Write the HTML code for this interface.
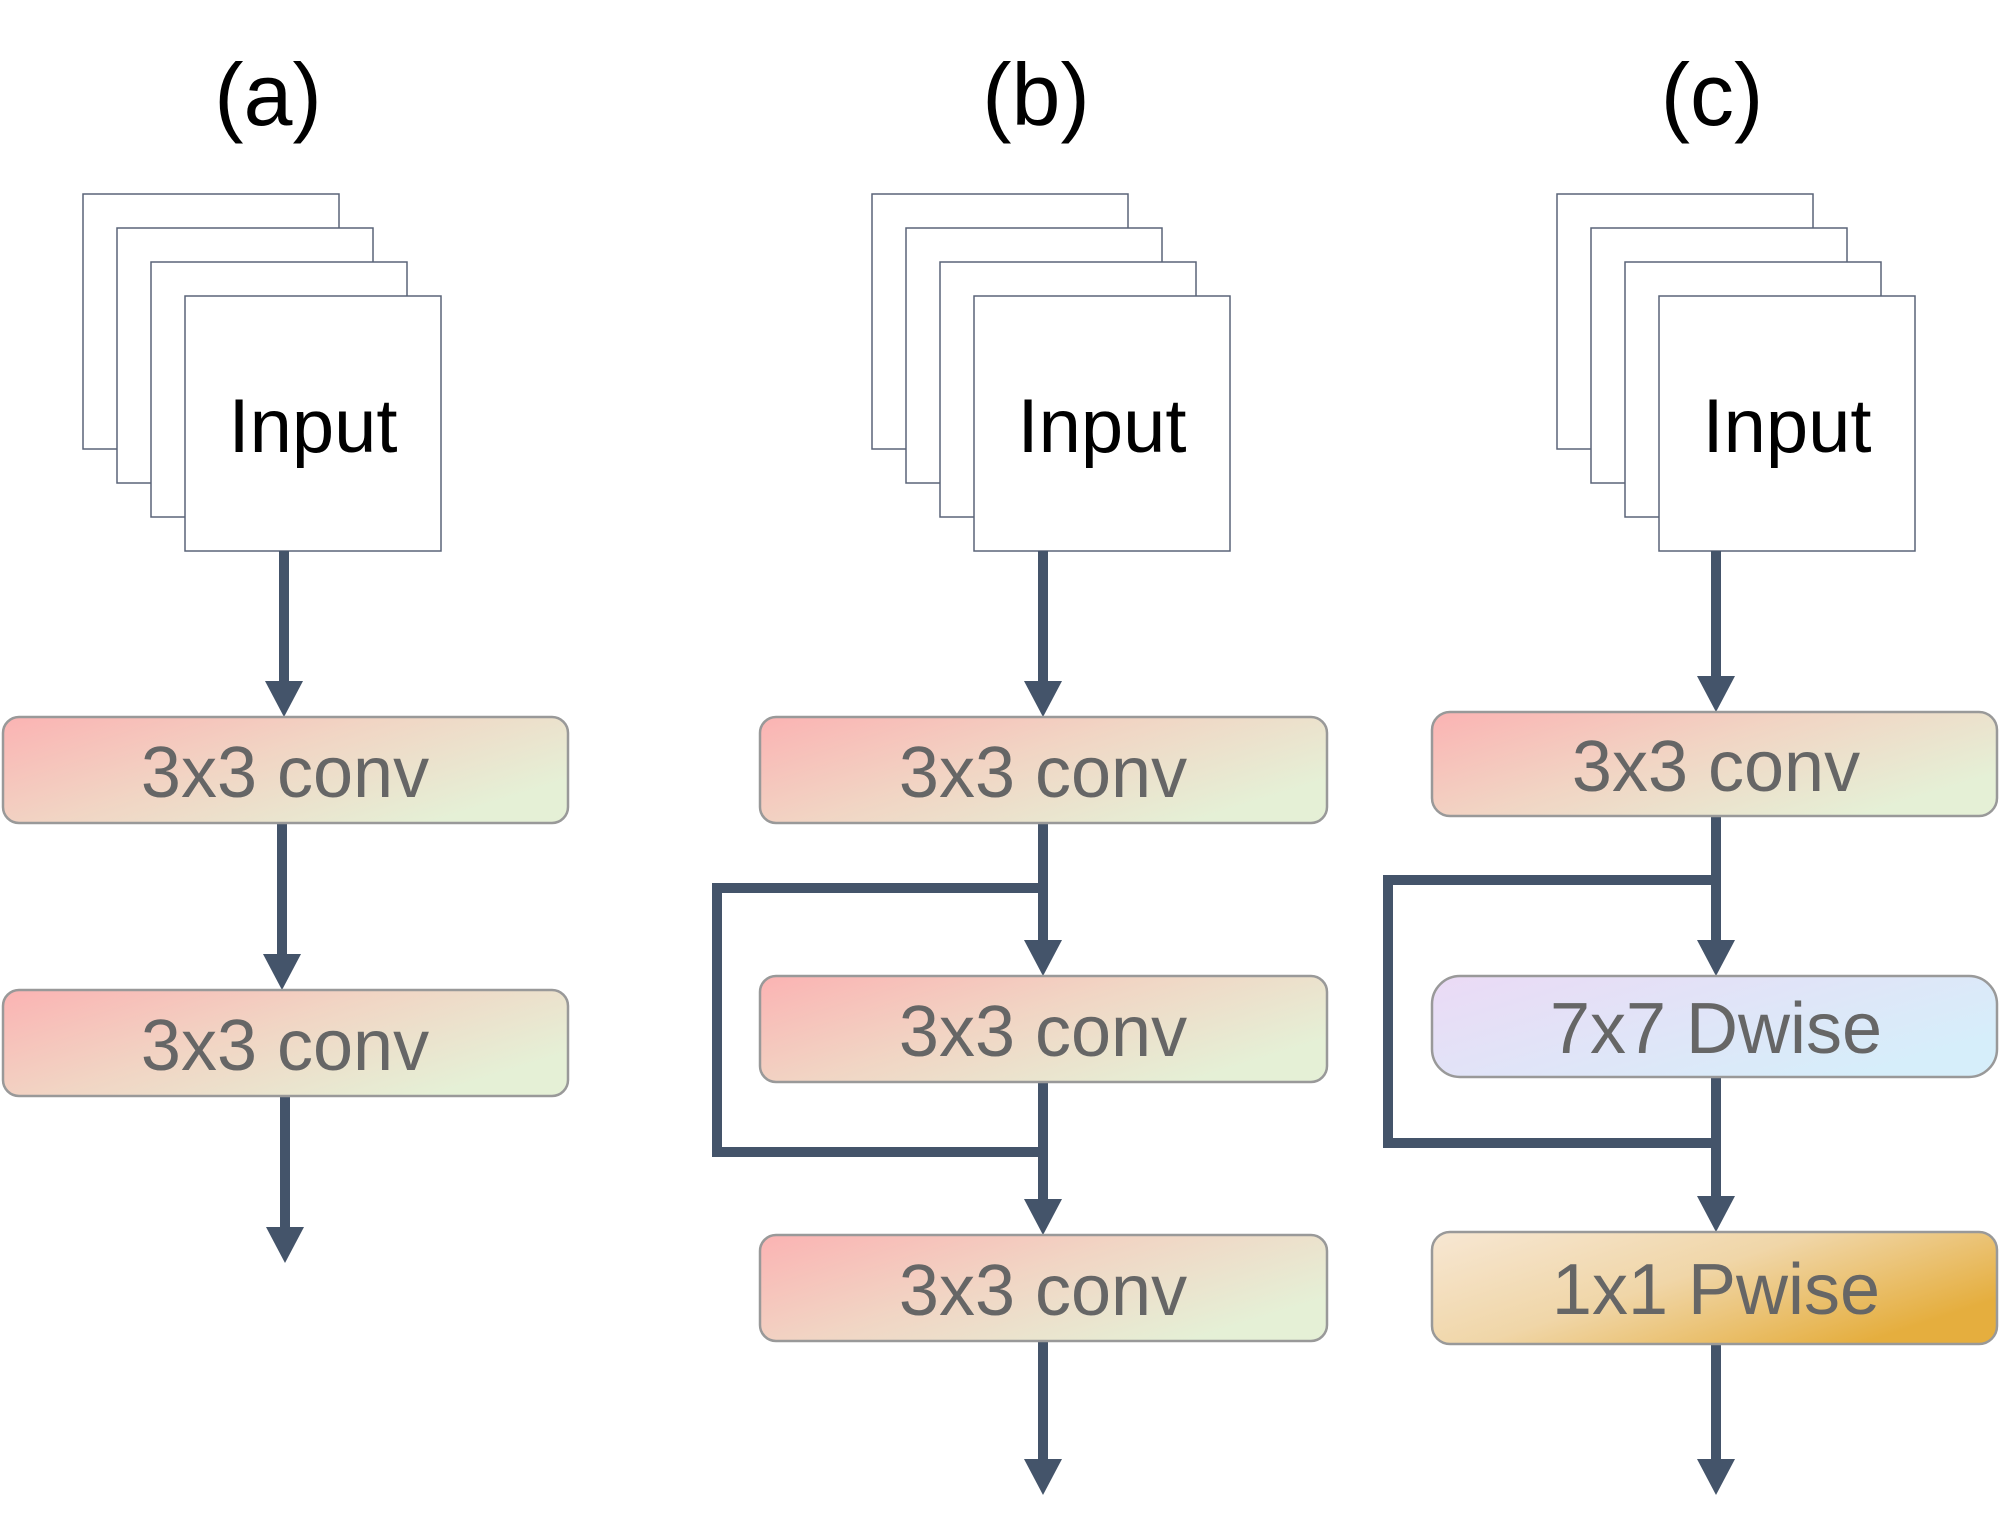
<!DOCTYPE html>
<html><head><meta charset="utf-8"><style>
html,body{margin:0;padding:0;background:#fff;}
svg{display:block;}
text{font-family:"Liberation Sans",sans-serif;}
</style></head><body>
<svg width="2000" height="1535" viewBox="0 0 2000 1535" xmlns="http://www.w3.org/2000/svg">
<defs>
<linearGradient id="gc" x1="0" y1="0" x2="1" y2="0.6"><stop offset="0" stop-color="#fbb3b3"/><stop offset="0.5" stop-color="#f1d5c4"/><stop offset="1" stop-color="#e5f0d6"/></linearGradient>
<linearGradient id="gd" x1="0" y1="0" x2="1" y2="0.6"><stop offset="0" stop-color="#ebdaf5"/><stop offset="1" stop-color="#d6eefa"/></linearGradient>
<linearGradient id="gp" x1="0" y1="0" x2="1" y2="0.6"><stop offset="0" stop-color="#f7e7d3"/><stop offset="0.5" stop-color="#f0d6a8"/><stop offset="1" stop-color="#e5ae3e"/></linearGradient>
</defs>
<g font-size="88" text-anchor="middle" fill="#000">
<text x="268" y="125">(a)</text><text x="1036" y="125">(b)</text><text x="1712" y="125">(c)</text>
</g>
<g fill="#fff" stroke="#5a6478" stroke-width="1.5">
<rect x="83" y="194" width="256" height="255"/><rect x="117" y="228" width="256" height="255"/><rect x="151" y="262" width="256" height="255"/><rect x="185" y="296" width="256" height="255"/>
<rect x="872" y="194" width="256" height="255"/><rect x="906" y="228" width="256" height="255"/><rect x="940" y="262" width="256" height="255"/><rect x="974" y="296" width="256" height="255"/>
<rect x="1557" y="194" width="256" height="255"/><rect x="1591" y="228" width="256" height="255"/><rect x="1625" y="262" width="256" height="255"/><rect x="1659" y="296" width="256" height="255"/>
</g>
<g font-size="76" text-anchor="middle" fill="#000">
<text x="313" y="452">Input</text><text x="1102" y="452">Input</text><text x="1787" y="452">Input</text>
</g>
<g stroke="#44546a" stroke-width="10" fill="none">
<line x1="284" y1="551" x2="284" y2="690"/>
<line x1="282" y1="823" x2="282" y2="960"/>
<line x1="285" y1="1096" x2="285" y2="1230"/>
<line x1="1043" y1="551" x2="1043" y2="690"/>
<line x1="1043" y1="823" x2="1043" y2="950"/>
<line x1="1043" y1="1082" x2="1043" y2="1208"/>
<line x1="1043" y1="1341" x2="1043" y2="1468"/>
<line x1="1716" y1="551" x2="1716" y2="685"/>
<line x1="1716" y1="816" x2="1716" y2="950"/>
<line x1="1716" y1="1077" x2="1716" y2="1205"/>
<line x1="1716" y1="1344" x2="1716" y2="1468"/>
<polyline points="1043,888 717,888 717,1152 1043,1152"/>
<polyline points="1716,880 1388,880 1388,1143 1716,1143"/>
</g>
<g fill="#44546a">
<polygon points="265,681 303,681 284,717"/>
<polygon points="263,954 301,954 282,990"/>
<polygon points="266,1227 304,1227 285,1263"/>
<polygon points="1024,681 1062,681 1043,717"/>
<polygon points="1024,940 1062,940 1043,976"/>
<polygon points="1024,1199 1062,1199 1043,1235"/>
<polygon points="1024,1459 1062,1459 1043,1495"/>
<polygon points="1697,676 1735,676 1716,712"/>
<polygon points="1697,940 1735,940 1716,976"/>
<polygon points="1697,1196 1735,1196 1716,1232"/>
<polygon points="1697,1459 1735,1459 1716,1495"/>
</g>
<g stroke="#999" stroke-width="2.5">
<rect x="3" y="717" width="565" height="106" rx="16" fill="url(#gc)"/>
<rect x="3" y="990" width="565" height="106" rx="16" fill="url(#gc)"/>
<rect x="760" y="717" width="567" height="106" rx="16" fill="url(#gc)"/>
<rect x="760" y="976" width="567" height="106" rx="16" fill="url(#gc)"/>
<rect x="760" y="1235" width="567" height="106" rx="16" fill="url(#gc)"/>
<rect x="1432" y="712" width="565" height="104" rx="18" fill="url(#gc)"/>
<rect x="1432" y="976" width="565" height="101" rx="28" fill="url(#gd)"/>
<rect x="1432" y="1232" width="565" height="112" rx="18" fill="url(#gp)"/>
</g>
<g font-size="72" text-anchor="middle" fill="#666">
<text x="285" y="797">3x3 conv</text>
<text x="285" y="1070">3x3 conv</text>
<text x="1043" y="797">3x3 conv</text>
<text x="1043" y="1056">3x3 conv</text>
<text x="1043" y="1315">3x3 conv</text>
<text x="1716" y="791">3x3 conv</text>
<text x="1716" y="1053">7x7 Dwise</text>
<text x="1716" y="1314">1x1 Pwise</text>
</g>
</svg>
</body></html>
